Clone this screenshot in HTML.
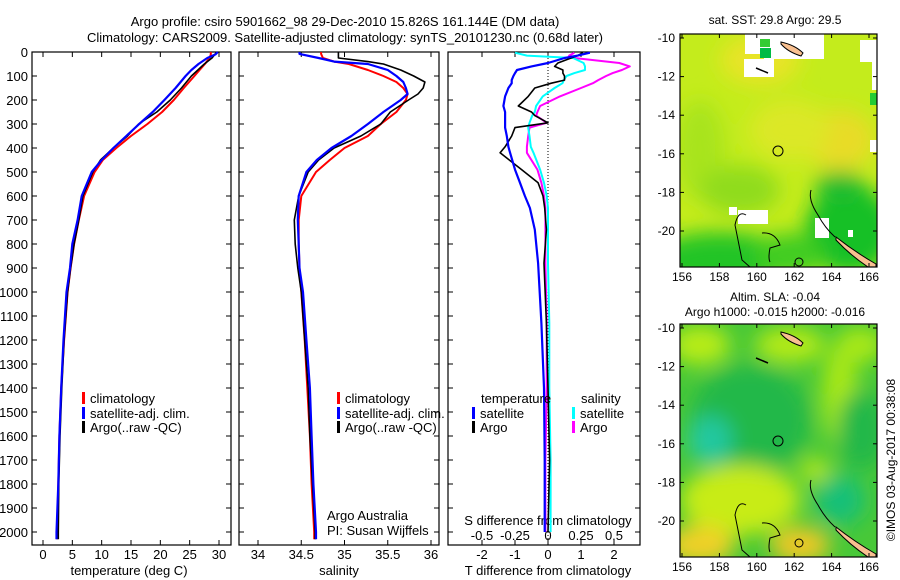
<!DOCTYPE html>
<html><head><meta charset="utf-8">
<style>
body{margin:0;background:#fff;}
svg{display:block;font-family:"Liberation Sans",sans-serif;}
text{fill:#000;}
</style></head>
<body>
<svg id="fig" width="900" height="580" viewBox="0 0 900 580" xmlns="http://www.w3.org/2000/svg">
<defs>
<filter id="blur10" x="-50%" y="-50%" width="200%" height="200%"><feGaussianBlur stdDeviation="10"/></filter>
<clipPath id="clipM1"><rect x="680" y="34" width="197" height="233"/></clipPath>
<clipPath id="clipM2"><rect x="680" y="324" width="197" height="233"/></clipPath>
</defs>
<text x="345" y="26" text-anchor="middle" font-size="13">Argo profile: csiro 5901662_98 29-Dec-2010 15.826S 161.144E (DM data)</text>
<text x="345" y="42" text-anchor="middle" font-size="13">Climatology: CARS2009. Satellite-adjusted climatology: synTS_20101230.nc (0.68d later)</text>
<g id="panels"></g>

<!-- Map 1 -->
<g>
<text x="775" y="24" text-anchor="middle" font-size="12">sat. SST: 29.8 Argo: 29.5</text>
<g clip-path="url(#clipM1)">
<rect x="680" y="34" width="197" height="233" fill="#c4ec1c"/>
<g filter="url(#blur10)">
<ellipse cx="760" cy="60" rx="40" ry="25" fill="#e8e428"/>
<ellipse cx="840" cy="140" rx="35" ry="30" fill="#e8dc28"/>
<ellipse cx="790" cy="130" rx="40" ry="30" fill="#dce826"/>
<ellipse cx="700" cy="150" rx="25" ry="50" fill="#a8e41c"/>
<ellipse cx="740" cy="190" rx="40" ry="25" fill="#90dc1a"/>
<ellipse cx="850" cy="230" rx="45" ry="45" fill="#18c028"/>
<ellipse cx="720" cy="260" rx="70" ry="28" fill="#22c428"/>
<ellipse cx="790" cy="255" rx="35" ry="22" fill="#40cc20"/>
<ellipse cx="840" cy="185" rx="25" ry="14" fill="#20bc30"/>
</g>
<rect x="764" y="34" width="60" height="25" fill="#fff"/>
<rect x="745" y="34" width="28" height="20" fill="#fff"/>
<rect x="744" y="59" width="30" height="18" fill="#fff"/>
<rect x="760" y="39" width="10" height="8" fill="#3c3"/>
<rect x="760" y="48" width="11" height="10" fill="#0b4"/>
<rect x="860" y="40" width="17" height="22" fill="#fff"/>
<rect x="872" y="60" width="5" height="30" fill="#fff"/>
<rect x="870" y="93" width="7" height="12" fill="#2c3"/>
<rect x="870" y="140" width="7" height="12" fill="#fff"/>
<rect x="729" y="207" width="8" height="8" fill="#fff"/>
<rect x="738" y="210" width="30" height="14" fill="#fff"/>
<rect x="815" y="218" width="14" height="20" fill="#fff"/>
<rect x="848" y="230" width="5" height="7" fill="#fff"/>
<path d="M781,42 Q795,45 803,53 L801,56 Q788,52 781,44Z" fill="#f8c090" stroke="#000" stroke-width="1"/>
<path d="M836,237 Q855,252 876,264 L876,267 L868,267 Q850,255 836,240Z" fill="#f8c090" stroke="#000" stroke-width="1"/>
<path d="M756,68 L768,73" stroke="#000" stroke-width="1.5"/>
<path d="M746,215 Q738,210 735,225 Q738,240 742,260 L750,267" fill="none" stroke="#000" stroke-width="1"/>
<path d="M811,190 Q808,200 818,215 Q825,228 835,237" fill="none" stroke="#000" stroke-width="1"/>
<path d="M762,233 Q775,232 780,245 L770,248 Q768,258 770,262" fill="none" stroke="#000" stroke-width="1"/>
<circle cx="799" cy="262" r="4" fill="none" stroke="#000" stroke-width="1"/>
</g>
<circle cx="778" cy="151" r="5" fill="none" stroke="#000" stroke-width="1"/>
<rect x="680" y="34" width="197" height="233" fill="none" stroke="#000" stroke-width="1.2"/>
<g id="map1axes"></g>
</g>

<!-- Map 2 -->
<g>
<text x="775" y="301" text-anchor="middle" font-size="12">Altim. SLA: -0.04</text>
<text x="775" y="316" text-anchor="middle" font-size="12">Argo h1000: -0.015 h2000: -0.016</text>
<g clip-path="url(#clipM2)">
<rect x="680" y="324" width="197" height="233" fill="#48c838"/>
<g filter="url(#blur10)">
<ellipse cx="700" cy="345" rx="30" ry="20" fill="#b8ec18"/>
<ellipse cx="790" cy="345" rx="35" ry="18" fill="#b4ea18"/>
<ellipse cx="860" cy="345" rx="25" ry="18" fill="#a8e818"/>
<ellipse cx="840" cy="395" rx="18" ry="50" fill="#a8e818"/>
<ellipse cx="750" cy="420" rx="60" ry="55" fill="#22b848"/>
<ellipse cx="710" cy="440" rx="22" ry="24" fill="#20c8a0"/>
<ellipse cx="862" cy="430" rx="25" ry="40" fill="#20b848"/>
<ellipse cx="840" cy="500" rx="25" ry="25" fill="#18c078"/>
<ellipse cx="740" cy="500" rx="60" ry="35" fill="#c8ec18"/>
<ellipse cx="700" cy="545" rx="35" ry="20" fill="#f0d028"/>
<ellipse cx="800" cy="545" rx="30" ry="18" fill="#f0c828"/>
<ellipse cx="815" cy="470" rx="15" ry="12" fill="#b8e818"/>
</g>
<path d="M781,332 Q795,335 803,343 L801,346 Q788,342 781,334Z" fill="#f8c090" stroke="#000" stroke-width="1"/>
<path d="M836,527 Q855,542 876,554 L876,557 L868,557 Q850,545 836,530Z" fill="#f8c090" stroke="#000" stroke-width="1"/>
<path d="M756,358 L768,363" stroke="#000" stroke-width="1.5"/>
<path d="M746,505 Q738,500 735,515 Q738,530 742,550 L750,557" fill="none" stroke="#000" stroke-width="1"/>
<path d="M811,480 Q808,490 818,505 Q825,518 835,527" fill="none" stroke="#000" stroke-width="1"/>
<path d="M762,523 Q775,522 780,535 L770,538 Q768,548 770,552" fill="none" stroke="#000" stroke-width="1"/>
<circle cx="799" cy="543" r="4" fill="none" stroke="#000" stroke-width="1"/>
</g>
<circle cx="778" cy="441" r="5" fill="none" stroke="#000" stroke-width="1"/>
<rect x="680" y="324" width="197" height="233" fill="none" stroke="#000" stroke-width="1.2"/>
<g id="map2axes"></g>
</g>
<text x="0" y="0" transform="translate(895,460) rotate(-90)" text-anchor="middle" font-size="12">©IMOS 03-Aug-2017 00:38:08</text>
</svg>
<script>
// ---- data ----
const depthTicks = [0,100,200,300,400,500,600,700,800,900,1000,1100,1200,1300,1400,1500,1600,1700,1800,1900,2000];
const tempTicks = [0,5,10,15,20,25,30];
const salTicks = [34,34.5,35,35.5,36];
const salTickLabels = ["34","34.5","35","35.5","36"];
const tdiffTicks = [-2,-1,0,1,2];
const sdiffTicks = [-0.5,-0.25,0,0.25,0.5];
const sdiffTickLabels = ["-0.5","-0.25","0","0.25","0.5"];
const lonTicks = [156,158,160,162,164,166];
const latTicks = [-10,-12,-14,-16,-18,-20];

const tDepth = [0,10,25,50,75,100,150,200,250,300,350,400,450,500,600,700,800,900,1000,1200,1400,1600,1800,2000,2030];
const tempClim = [28.6,28.6,28.4,27.6,26.7,25.8,24.0,22.3,20.3,17.8,15.0,12.5,10.2,8.8,7.0,6.1,5.3,4.7,4.2,3.6,3.1,2.8,2.6,2.4,2.4];
const tempSat  = [29.8,29.4,28.0,26.5,25.3,24.3,22.6,20.7,18.7,16.4,14.2,12.0,10.0,8.3,6.6,5.9,5.0,4.6,4.0,3.5,3.1,2.8,2.6,2.3,2.3];
const tempArgo = [29.6,29.3,28.8,27.5,26.4,25.3,23.6,21.7,19.4,16.3,14.4,12.0,9.8,8.5,6.8,6.1,5.3,4.7,4.2,3.6,3.2,2.9,2.7,2.6,2.6];

const sDepth = [0,8,25,40,50,75,100,125,150,175,200,250,300,350,400,450,500,600,700,800,900,1000,1200,1400,1600,1800,2000,2030];
const salClim = [34.73,34.73,34.75,34.88,35.05,35.27,35.45,35.6,35.68,35.73,35.71,35.6,35.42,35.27,35.0,34.83,34.67,34.5,34.47,34.47,34.48,34.5,34.54,34.57,34.6,34.62,34.65,34.65];
const salSat  = [34.48,34.48,34.7,34.88,35.27,35.5,35.6,35.68,35.71,35.73,35.65,35.45,35.27,35.08,34.85,34.68,34.56,34.47,34.46,34.47,34.48,34.52,34.56,34.6,34.62,34.64,34.67,34.67];
const salArgo = [34.93,34.93,34.93,35.27,35.45,35.65,35.8,35.93,35.91,35.85,35.74,35.53,35.42,35.19,34.88,34.7,34.58,34.47,34.42,34.43,34.46,34.5,34.54,34.58,34.6,34.63,34.66,34.66];

const dDepth = [3,15,25,46,60,75,88,100,117,130,150,185,225,250,265,295,315,350,395,420,490,545,600,650,740,880,1130,1400,1700,2000];
const tdiffSat  = [1.27,0.9,0.5,0,-0.5,-0.94,-1.0,-1.05,-1.1,-1.1,-1.2,-1.3,-1.35,-1.3,-1.3,-1.3,-1.3,-1.25,-1.2,-1.15,-1.0,-0.85,-0.7,-0.55,-0.4,-0.3,-0.2,-0.12,-0.1,-0.1];
const tdiffArgo = [1.06,0.9,0.7,0.3,0.2,0.45,0.45,0.5,0.5,0.1,-0.4,-0.6,-0.9,-0.5,-0.4,0,-1.0,-1.1,-1.3,-1.45,-0.8,-0.3,-0.15,-0.1,-0.05,-0.12,-0.05,0,0.05,0];
const sdiffSat  = [-0.25,-0.16,0.19,0.27,0.28,0.28,0.2,0.14,0.12,0.11,0.05,-0.04,-0.09,-0.1,-0.12,-0.14,-0.15,-0.14,-0.13,-0.11,-0.06,-0.03,-0.01,0,0,0,0.01,0.01,0.02,0.02];
const sdiffArgo = [0.2,0.16,0.2,0.54,0.62,0.56,0.49,0.44,0.38,0.34,0.25,0.09,-0.06,-0.08,-0.09,-0.01,-0.14,-0.15,-0.16,-0.16,-0.08,-0.05,-0.03,-0.02,-0.02,-0.02,-0.01,-0.01,-0.02,-0.02];

// ---- scales ----
const NS = "http://www.w3.org/2000/svg";
const yTop = 52, yBot = 545;
const yD = d => 52 + d * 0.24;
const xT = v => 43 + v * (219 - 43) / 30;
const xS = v => 258 + (v - 34) * (431 - 258) / 2;
const xTD = v => 548 + v * 33;
const xSD = v => 548 + v * 132;
const xLon = v => 682 + (v - 156) * (869 - 682) / 10;
const yLat1 = v => 38 + (-10 - v) * (231 - 38) / 10;
const yLat2 = v => 328 + (-10 - v) * (521 - 328) / 10;
const panels = document.getElementById('panels');

function mk(tag, attrs, parent) {
  const e = document.createElementNS(NS, tag);
  for (const k in attrs) e.setAttribute(k, attrs[k]);
  (parent || panels).appendChild(e);
  return e;
}
function txt(x, y, s, size, anchor, parent) {
  const t = mk('text', {x: x, y: y, 'font-size': size, 'text-anchor': anchor}, parent);
  t.textContent = s;
  return t;
}
function line(xs, ys, xf, color, w) {
  let d = '';
  for (let i = 0; i < xs.length; i++) d += (i ? 'L' : 'M') + xf(xs[i]).toFixed(1) + ',' + yD(ys[i]).toFixed(1);
  return mk('path', {d: d, fill: 'none', stroke: color, 'stroke-width': w, 'stroke-linejoin': 'round'});
}
function frame(x0, x1) {
  return mk('rect', {x: x0, y: yTop, width: x1 - x0, height: yBot - yTop, fill: 'none', stroke: '#000', 'stroke-width': 1.2});
}
function yTicks(x0, x1) {
  depthTicks.forEach(d => {
    mk('line', {x1: x0, x2: x0 + 5, y1: yD(d), y2: yD(d), stroke: '#000'});
    mk('line', {x1: x1, x2: x1 - 5, y1: yD(d), y2: yD(d), stroke: '#000'});
  });
}
function xTicks(vals, f) {
  vals.forEach(v => {
    mk('line', {x1: f(v), x2: f(v), y1: yBot, y2: yBot - 5, stroke: '#000'});
    mk('line', {x1: f(v), x2: f(v), y1: yTop, y2: yTop + 5, stroke: '#000'});
  });
}

// Panel 1: temperature
const f1 = frame(32, 231);


yTicks(32, 231); xTicks(tempTicks, xT);
depthTicks.forEach(d => {
  const t = txt(28, yD(d) + 5, String(d), 13, 'end');
  
  
});
tempTicks.forEach(v => {
  const t = txt(xT(v), 559, String(v), 13, 'middle');
  
  
});
const tt1 = txt(129, 575, 'temperature (deg C)', 13, 'middle');


const l1 = line(tempClim, tDepth, xT, '#f00', 2);


const l2 = line(tempArgo, tDepth, xT, '#000', 1.6);


const l3 = line(tempSat, tDepth, xT, '#00f', 2.2);



// Panel 2: salinity
const f2 = frame(239, 439);


yTicks(239, 439); xTicks(salTicks, xS);
salTicks.forEach((v, i) => {
  const t = txt(xS(v), 559, salTickLabels[i], 13, 'middle');
  
  
});
const tt2 = txt(339, 575, 'salinity', 13, 'middle');


const s1 = line(salClim, sDepth, xS, '#f00', 2);


const s2 = line(salArgo, sDepth, xS, '#000', 1.6);


const s3 = line(salSat, sDepth, xS, '#00f', 2.2);



// Panel 3: differences
const f3 = frame(448, 640);


yTicks(448, 640); xTicks(tdiffTicks, xTD);
mk('line', {x1: xTD(0), x2: xTD(0), y1: yTop, y2: yBot, stroke: '#000', 'stroke-width': 1, 'stroke-dasharray': '1,2'});
tdiffTicks.forEach(v => {
  const t = txt(xTD(v), 559, String(v), 13, 'middle');
  
  
});
sdiffTicks.forEach((v, i) => {
  const t = txt(xSD(v), 540, sdiffTickLabels[i], 13, 'middle');
  
  
});
const tt3 = txt(548, 575, 'T difference from climatology', 13, 'middle');


const tt4 = txt(548, 525, 'S difference from climatology', 13, 'middle');


const d1 = line(sdiffArgo, dDepth, xSD, '#f0f', 2);


const d2 = line(sdiffSat, dDepth, xSD, '#0ff', 2);


const d3 = line(tdiffArgo, dDepth, xTD, '#000', 1.6);


const d4 = line(tdiffSat, dDepth, xTD, '#00f', 2.2);



// Legends
function legend(x, y, color, label) {
  const g = mk('g', {});
  
  
  mk('rect', {x: x, y: y - 11, width: 3, height: 12, fill: color}, g);
  txt(x + 8, y, label, 13, 'start', g);
}
legend(82, 403, '#f00', 'climatology');
legend(82, 418, '#00f', 'satellite-adj. clim.');
legend(82, 432, '#000', 'Argo(..raw -QC)');
legend(337, 403, '#f00', 'climatology');
legend(337, 418, '#00f', 'satellite-adj. clim.');
legend(337, 432, '#000', 'Argo(..raw -QC)');
const lt = txt(481, 403, 'temperature', 13, 'start');


const ls = txt(581, 403, 'salinity', 13, 'start');


legend(472, 418, '#00f', 'satellite');
legend(472, 432, '#000', 'Argo');
legend(572, 418, '#0ff', 'satellite');
legend(572, 432, '#f0f', 'Argo');
const a1 = txt(327, 520, 'Argo Australia', 13, 'start');


const a2 = txt(327, 535, 'PI: Susan Wijffels', 13, 'start');



// Map axes
function mapAxes(gid, yLat, y0, y1) {
  const g = document.getElementById(gid);
  lonTicks.forEach(v => {
    mk('line', {x1: xLon(v), x2: xLon(v), y1: y1, y2: y1 - 4, stroke: '#000'}, g);
    mk('line', {x1: xLon(v), x2: xLon(v), y1: y0, y2: y0 + 4, stroke: '#000'}, g);
    const t = txt(xLon(v), y1 + 14, String(v), 12, 'middle', g);
    
    
  });
  latTicks.forEach(v => {
    mk('line', {x1: 680, x2: 684, y1: yLat(v), y2: yLat(v), stroke: '#000'}, g);
    mk('line', {x1: 877, x2: 873, y1: yLat(v), y2: yLat(v), stroke: '#000'}, g);
    const t = txt(675, yLat(v) + 4, String(v), 12, 'end', g);
    
    
  });
}
mapAxes('map1axes', yLat1, 34, 267);
mapAxes('map2axes', yLat2, 324, 557);
</script>
</body></html>
